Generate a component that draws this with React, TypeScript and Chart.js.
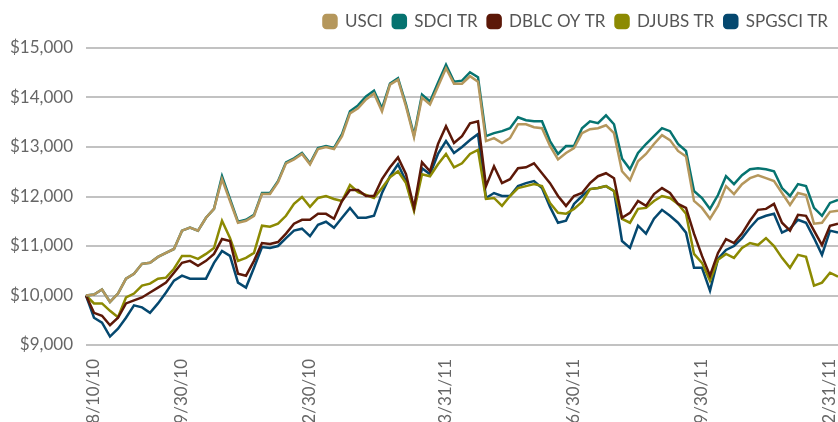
import React, { useEffect, useRef } from "react";
import { Chart, registerables } from "chart.js";

Chart.register(...registerables);

const seriesNames = ["USCI", "SDCI TR", "DBLC OY TR", "DJUBS TR", "SPGSCI TR"];
const seriesColors = ["#B5975C", "#067370", "#5C1808", "#8C8A02", "#05486F"];

const tickLabels = ["8/10/10", "9/30/10", "12/30/10", "3/31/11", "6/30/11", "9/30/11", "12/31/11"];
const tickIndices = [1, 12, 28, 45, 61, 77, 93];

const yTicks = [9000, 10000, 11000, 12000, 13000, 14000, 15000];

const usci = [
  10000, 10020, 10120, 9870, 10040, 10340, 10440, 10640, 10660, 10780,
  10860, 10940, 11310, 11370, 11310, 11570, 11750, 12350, 11910, 11470,
  11510, 11610, 12050, 12050, 12290, 12670, 12750, 12860, 12650, 12960,
  13000, 12960, 13220, 13680, 13780, 13960, 14080, 13720, 14260, 14360,
  13820, 13200, 14000, 13860, 14220, 14590, 14280, 14280, 14430, 14320,
  13120, 13180, 13080, 13180, 13460, 13460, 13400, 13380, 13020, 12750,
  12880, 12980, 13280, 13360, 13380, 13440, 13280, 12510, 12330, 12710,
  12860, 13060, 13240, 13140, 12920, 12810, 11910, 11770, 11550, 11810,
  12210, 12050, 12250, 12370, 12430, 12370, 12310, 12070, 11830, 12070,
  12030, 11450, 11470, 11690, 11710,
];

const sdci = [
  10000, 10020, 10120, 9870, 10040, 10340, 10440, 10640, 10660, 10780,
  10860, 10940, 11310, 11370, 11310, 11570, 11750, 12410, 11950, 11490,
  11530, 11630, 12070, 12070, 12310, 12690, 12770, 12880, 12670, 12980,
  13020, 12980, 13260, 13720, 13840, 14020, 14140, 13780, 14280, 14390,
  13860, 13240, 14060, 13920, 14300, 14660, 14320, 14340, 14510, 14410,
  13220, 13280, 13320, 13380, 13600, 13540, 13520, 13520, 13120, 12860,
  13020, 13020, 13380, 13520, 13480, 13640, 13460, 12770, 12550, 12880,
  13060, 13220, 13380, 13320, 13060, 12920, 12110, 11970, 11750, 12030,
  12410, 12250, 12430, 12550, 12570, 12550, 12510, 12170, 12010, 12250,
  12210, 11770, 11610, 11870, 11930,
];

const dblc = [
  10000, 9650, 9590, 9400, 9550, 9840, 9900, 9960, 10060, 10160,
  10260, 10460, 10660, 10700, 10600, 10700, 10840, 11140, 11100, 10440,
  10400, 10700, 11060, 11040, 11080, 11250, 11450, 11530, 11530, 11650,
  11650, 11550, 11910, 12130, 12130, 12010, 12010, 12350, 12590, 12790,
  12450, 11770, 12690, 12510, 13060, 13420, 13080, 13220, 13480, 13520,
  12210, 12610, 12270, 12350, 12570, 12590, 12670, 12470, 12270, 12010,
  11810, 12010, 12070, 12270, 12410, 12470, 12370, 11570, 11670, 11910,
  11810, 12050, 12170, 12070, 11850, 11770, 11250, 10800, 10400, 10860,
  11140, 11060, 11250, 11510, 11730, 11750, 11850, 11470, 11310, 11630,
  11610, 11310, 11020, 11410, 11450,
];

const djubs = [
  10000, 9840, 9840, 9690, 9560, 9960, 10040, 10200, 10240, 10340,
  10360, 10540, 10800, 10800, 10740, 10840, 10960, 11510, 11160, 10700,
  10760, 10860, 11410, 11390, 11450, 11610, 11850, 11990, 11790, 11970,
  12010, 11950, 11910, 12230, 12090, 12030, 11970, 12170, 12390, 12510,
  12270, 11710, 12450, 12410, 12650, 12860, 12590, 12670, 12860, 12940,
  11950, 11970, 11810, 12010, 12170, 12210, 12250, 12210, 11870, 11670,
  11650, 11750, 11890, 12150, 12170, 12210, 12110, 11550, 11470, 11750,
  11770, 11910, 12010, 11970, 11850, 11650, 10840, 10660, 10300, 10720,
  10840, 10760, 10960, 11060, 11020, 11160, 11000, 10760, 10560, 10820,
  10780, 10200, 10260, 10460, 10380,
];

const spgsci = [
  10000, 9550, 9450, 9170, 9330, 9550, 9800, 9760, 9650, 9840,
  10060, 10300, 10400, 10340, 10340, 10340, 10660, 10900, 10800, 10260,
  10160, 10560, 10980, 10960, 11000, 11160, 11310, 11350, 11200, 11430,
  11490, 11370, 11570, 11770, 11570, 11570, 11610, 12070, 12410, 12650,
  12310, 11750, 12570, 12450, 12860, 13120, 12880, 13000, 13140, 13260,
  11970, 12070, 12010, 12010, 12210, 12270, 12310, 12170, 11790, 11470,
  11510, 11850, 12010, 12150, 12170, 12210, 12110, 11100, 10960, 11410,
  11250, 11550, 11730, 11610, 11470, 11270, 10560, 10560, 10100, 10740,
  10920, 11000, 11160, 11370, 11550, 11610, 11650, 11270, 11350, 11530,
  11470, 11160, 10820, 11310, 11270,
];

const seriesData = [usci, sdci, dblc, djubs, spgsci];

const FONT = "Lato, 'Open Sans', 'DejaVu Sans', sans-serif";

const legendSpacer = {
  id: "legendSpacer",
  beforeInit(chart: any) {
    const legend = chart.legend;
    if (!legend) return;
    const origFit = legend.fit;
    legend.fit = function () {
      origFit.call(this);
      this.height += 8;
    };
  },
};

export default function App() {
  const ref = useRef<HTMLCanvasElement | null>(null);

  useEffect(() => {
    if (!ref.current) return;
    const labels = usci.map((_, i) => {
      const k = tickIndices.indexOf(i);
      return k >= 0 ? tickLabels[k] : "";
    });
    const chart = new Chart(ref.current, {
      type: "line",
      data: {
        labels,
        datasets: seriesNames.map((name, i) => ({
          label: name,
          data: seriesData[i],
          borderColor: seriesColors[i],
          backgroundColor: seriesColors[i],
          borderWidth: 2.5,
          pointRadius: 0,
          pointHoverRadius: 0,
          tension: 0,
          fill: false,
        })),
      },
      plugins: [legendSpacer],
      options: {
        responsive: false,
        animation: false,
        layout: { padding: { top: 3, right: 0, left: 0, bottom: 0 } },
        plugins: {
          tooltip: { enabled: false },
          legend: {
            display: true,
            position: "top",
            align: "end",
            labels: {
              boxWidth: 13,
              boxHeight: 13,
              useBorderRadius: true,
              borderRadius: 3,
              padding: 10,
              color: "#555555",
              font: { family: FONT, size: 17 },
            },
          },
        },
        scales: {
          x: {
            type: "category",
            grid: { display: false, drawTicks: false },
            border: { display: false },
            ticks: {
              autoSkip: false,
              minRotation: 90,
              maxRotation: 90,
              padding: 14,
              color: "#666666",
              font: { family: FONT, size: 17 },
            },
            afterFit: (scale: any) => {
              scale.height = 85;
              scale.paddingLeft = 0;
              scale.paddingRight = 0;
            },
          },
          y: {
            type: "linear",
            min: 9000,
            max: 15000,
            afterBuildTicks: (scale: any) => {
              scale.ticks = yTicks.map((v) => ({ value: v }));
            },
            grid: { color: "#c2c2c2", lineWidth: 2, drawTicks: false },
            border: { display: false },
            ticks: {
              padding: 13,
              color: "#666666",
              font: { family: FONT, size: 17 },
              callback: (v: any) => "$" + Number(v).toLocaleString("en-US"),
            },
            afterFit: (scale: any) => {
              scale.width = 86;
            },
          },
        },
      },
    });
    return () => chart.destroy();
  }, []);

  return (
    <div style={{ position: "absolute", left: 0, top: 0, width: 838, height: 422, overflow: "hidden" }}>
      <canvas ref={ref} width={838} height={430} style={{ display: "block" }} />
    </div>
  );
}
